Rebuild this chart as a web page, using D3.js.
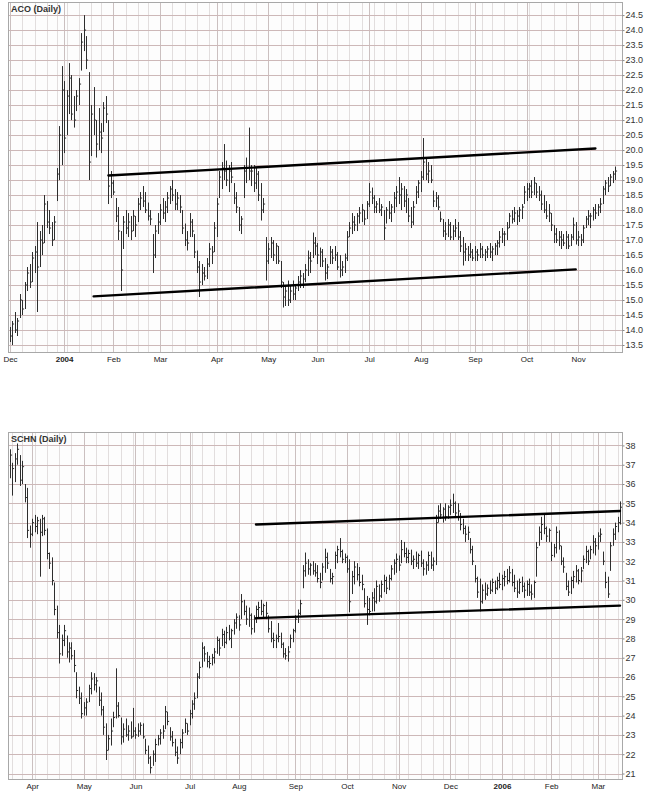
<!DOCTYPE html>
<html><head><meta charset="utf-8">
<script src="https://cdn.jsdelivr.net/npm/d3@7"></script>
<style>
body{margin:0;background:#fff}
svg{display:block}
text{font-family:"Liberation Sans",Arial,sans-serif}
</style>
</head><body>
<svg id="c" width="648" height="795"></svg>
<script>
// ---------------- DATA ----------------
const acoStart = "2003-12-01";
const acoHolidays = ["2003-12-25","2004-01-01","2004-01-19","2004-02-16","2004-04-09","2004-05-31","2004-06-11","2004-07-05","2004-09-06"];
const acoHigh = [14.1,14.3,14.6,14.4,15.2,15.0,15.6,16.1,16.2,16.6,
16.8,17.6,17.3,17.5,18.5,18.3,18.0,17.6,17.8,19.4,
20.8,22.8,22.3,22.0,22.9,22.5,21.8,22.0,22.4,23.9,
24.5,23.8,22.6,21.5,22.1,21.0,21.4,20.9,21.6,21.8,
21.0,19.3,19.0,18.4,18.1,17.3,17.8,18.0,17.9,17.8,
18.0,17.8,18.4,18.6,18.8,18.6,18.25,18.0,17.2,17.5,
17.9,18.2,18.4,18.3,18.6,18.8,19.0,18.7,18.6,18.5,
18.0,17.55,17.3,17.9,17.7,17.2,16.65,16.3,16.2,16.1,
16.4,16.9,16.8,17.6,18.4,19.3,19.6,20.2,19.65,19.5,
19.6,18.9,18.6,18.1,17.8,19.5,19.75,20.75,19.5,19.5,
19.4,19.3,18.9,18.4,17.1,16.9,17.1,17.0,16.9,16.8,
16.3,15.6,15.5,15.65,15.5,15.65,15.5,15.8,16.0,15.9,
16.2,16.65,16.6,17.25,17.1,16.9,16.75,16.7,16.4,16.2,
16.8,16.7,16.8,16.6,16.5,16.3,16.55,17.3,17.6,17.9,
17.8,17.9,18.1,18.2,18.0,18.3,18.9,18.75,18.5,18.3,
18.4,18.2,18.0,18.1,18.3,18.2,18.6,18.8,19.1,18.9,
18.8,18.7,18.4,18.1,18.3,18.8,19.0,19.3,20.4,19.75,
19.6,19.5,18.65,18.6,18.5,17.95,17.7,17.6,17.7,17.6,
17.5,17.7,17.6,17.3,17.1,16.9,16.8,16.9,16.7,16.8,
16.7,16.9,16.8,16.7,16.8,16.9,16.8,16.9,17.0,17.3,
17.4,17.3,17.6,17.9,18.0,18.1,18.0,18.1,18.2,18.8,
18.9,18.9,19.0,19.1,18.9,18.8,18.65,18.5,18.3,18.2,
17.9,17.5,17.4,17.3,17.3,17.2,17.3,17.2,17.2,17.75,
17.6,17.3,17.2,17.5,17.8,18.0,17.9,18.1,18.2,18.2,
18.4,18.8,19.0,19.1,19.2,19.3,19.45];
const acoLow = [13.6,13.5,13.9,13.8,14.4,14.5,14.7,15.3,15.4,15.6,
15.9,14.6,16.1,16.5,16.9,17.4,17.2,16.8,17.0,18.3,
19.0,19.5,19.9,20.5,21.2,21.0,20.75,21.3,21.5,22.65,
23.3,22.7,19.0,19.8,20.5,19.75,20.0,19.9,20.6,20.9,
18.2,18.4,18.5,17.6,17.0,15.3,16.7,17.2,17.1,17.0,
17.3,17.1,17.6,18.0,18.1,17.9,17.65,17.5,15.9,16.4,
17.2,17.5,17.7,17.6,17.9,18.2,18.3,18.0,18.0,17.9,
17.2,16.8,16.65,17.1,17.1,16.4,15.9,15.1,15.5,15.65,
15.7,16.1,16.2,16.6,17.1,18.4,18.7,19.0,18.8,18.6,
18.9,18.2,17.9,17.3,17.2,18.4,18.9,19.0,18.8,18.6,
18.7,18.3,17.65,17.9,15.65,16.2,16.4,16.3,16.2,16.2,
15.4,14.75,14.8,14.8,14.9,15.0,15.0,15.3,15.4,15.4,
15.6,15.8,15.9,16.4,16.5,16.2,16.1,16.1,15.65,15.7,
16.2,16.2,16.3,16.0,15.75,15.8,15.9,16.3,17.1,17.2,
17.3,17.3,17.55,17.6,17.5,17.7,18.1,18.2,17.9,17.9,
17.9,17.8,17.0,17.55,17.7,17.6,17.9,18.1,18.2,18.0,
18.1,17.9,17.6,17.4,17.5,18.2,18.4,18.6,19.0,19.0,
18.9,18.9,18.1,18.1,18.0,17.6,17.1,17.0,17.1,17.0,
17.0,17.1,17.0,16.6,16.15,16.3,16.3,16.4,16.3,16.3,
16.3,16.4,16.4,16.3,16.4,16.4,16.3,16.5,16.5,16.75,
16.9,16.8,17.0,17.4,17.55,17.6,17.5,17.6,17.7,18.2,
18.3,18.4,18.4,18.5,18.4,18.3,18.0,17.9,17.7,17.6,
17.3,16.9,16.9,16.8,16.7,16.8,16.7,16.7,16.8,17.0,
16.85,16.8,16.8,16.9,17.4,17.5,17.4,17.65,17.7,17.8,
17.9,18.2,18.5,18.6,18.8,18.9,19.0];
const acoClose = [13.8,14.2,14.0,14.3,15.0,14.7,15.5,15.9,15.6,16.4,
16.6,16.1,17.0,16.9,18.2,17.6,17.4,17.0,17.6,19.2,
20.5,22.0,20.4,21.8,22.4,21.2,21.0,21.8,22.2,23.6,
24.0,23.0,19.6,21.2,21.0,20.2,20.6,20.4,21.4,21.2,
18.8,18.9,18.6,17.8,17.3,16.0,17.6,17.4,17.6,17.3,
17.8,17.5,18.2,18.4,18.3,18.0,17.8,17.7,16.5,17.3,
17.6,18.0,17.9,18.1,18.4,18.7,18.5,18.2,18.4,18.1,
17.4,17.0,16.9,17.6,17.3,16.6,16.1,15.6,15.9,15.8,
16.2,16.7,16.6,17.4,18.2,19.1,19.4,19.3,19.0,19.3,
19.1,18.4,18.1,17.5,17.7,19.3,19.4,19.3,19.3,18.9,
19.2,18.5,18.0,18.2,16.3,16.7,16.9,16.5,16.8,16.3,
15.6,15.1,15.3,15.0,15.3,15.2,15.4,15.6,15.8,15.7,
16.0,16.4,16.3,16.9,16.8,16.5,16.6,16.3,15.9,16.1,
16.6,16.4,16.5,16.1,16.0,16.1,16.4,17.1,17.4,17.6,
17.5,17.8,17.9,18.0,17.7,18.2,18.6,18.4,18.1,18.2,
18.0,18.1,17.4,18.0,17.9,18.1,18.4,18.6,18.5,18.7,
18.3,18.5,17.8,17.6,18.1,18.6,18.9,19.1,19.6,19.2,
19.3,19.0,18.3,18.4,18.1,17.7,17.3,17.2,17.5,17.1,
17.3,17.4,17.1,16.8,16.6,16.7,16.5,16.6,16.4,16.6,
16.5,16.7,16.5,16.6,16.7,16.6,16.7,16.8,16.9,17.1,
17.2,17.2,17.4,17.8,17.7,17.9,17.8,18.0,18.1,18.6,
18.7,18.8,18.6,18.9,18.6,18.5,18.2,18.0,17.8,17.9,
17.5,17.2,17.0,17.1,17.0,16.9,17.1,16.8,17.1,17.5,
17.0,17.1,17.0,17.4,17.7,17.8,17.8,18.0,17.9,18.1,
18.2,18.7,18.9,18.8,19.1,19.2,19.3];
const acoYTicks = [13.5,14.0,14.5,15.0,15.5,16.0,16.5,17.0,17.5,18.0,18.5,19.0,19.5,20.0,20.5,21.0,21.5,22.0,22.5,23.0,23.5,24.0,24.5];
const acoTrends = [
  [["2004-01-29",19.15],["2004-11-10",20.05]],
  [["2004-01-21",15.12],["2004-10-29",16.02]]
];

const schnStart = "2005-03-18";
const schnHolidays = ["2005-03-25","2005-05-30","2005-07-04","2005-09-05","2005-11-24","2005-12-26","2006-01-02","2006-01-16","2006-02-20"];
const schnHigh = [37.8,37.1,37.6,38.1,37.5,37.2,36.0,35.8,33.85,34.2,
34.4,34.3,34.2,34.4,34.3,33.7,32.45,32.2,30.9,29.7,
28.7,28.2,28.7,28.15,27.8,27.8,27.4,26.25,25.5,25.2,
24.7,24.9,25.6,26.25,26.2,26.0,25.5,25.2,24.5,23.6,
23.0,23.85,24.2,26.45,24.7,23.9,23.6,23.85,23.5,23.7,
24.4,23.4,23.6,23.65,23.6,22.8,22.45,21.9,22.2,22.8,
23.0,23.3,23.5,24.5,24.2,23.4,23.2,22.8,22.4,22.8,
23.3,23.85,23.6,24.3,24.8,25.2,26.2,26.8,27.8,27.6,
27.3,27.1,27.2,27.5,28.1,28.0,28.5,28.4,28.6,28.7,
28.5,29.0,29.3,29.2,30.3,30.0,29.7,29.6,29.3,29.2,
29.7,29.9,30.0,29.8,29.9,29.2,28.9,28.3,28.2,28.8,
28.3,27.8,27.5,27.6,28.2,28.5,29.2,29.5,30.0,31.8,
32.45,32.1,31.9,32.0,31.9,31.8,31.4,31.9,32.65,32.45,
31.6,31.4,32.5,32.8,33.2,32.6,32.4,32.3,32.1,31.5,
32.0,31.9,31.7,31.3,30.6,30.2,30.1,30.4,30.6,31.0,
30.8,31.0,31.3,31.2,31.3,31.8,32.1,32.4,32.3,33.1,
33.0,32.7,32.6,32.6,32.3,32.5,32.4,32.55,32.1,32.0,
32.5,32.5,32.2,34.4,34.9,35.0,34.8,35.0,34.9,35.2,
35.5,35.1,35.0,34.5,34.2,33.85,33.8,33.2,32.8,31.8,
31.2,31.1,30.8,30.9,30.8,31.0,31.1,31.0,31.2,31.4,
31.3,31.5,31.6,31.75,31.6,31.3,31.0,31.1,31.2,30.9,
31.0,31.1,30.8,31.0,33.0,33.8,34.3,34.5,33.8,33.7,
33.0,32.9,33.8,33.6,32.8,32.2,31.4,31.0,31.2,31.5,
31.8,31.6,31.7,32.3,32.8,32.6,32.8,33.35,33.2,33.5,
33.7,32.5,31.45,31.2,33.0,33.7,34.0,34.3,35.1];
const schnLow = [36.3,35.4,36.1,37.0,35.9,36.0,35.05,33.2,32.7,33.3,
33.5,33.4,31.2,33.3,33.35,32.1,31.6,30.75,29.2,28.0,
26.7,27.1,27.6,27.0,26.75,26.9,26.25,24.9,24.6,23.85,
24.0,24.0,24.7,25.1,25.3,25.2,24.5,24.0,23.0,21.7,
22.2,22.45,23.4,23.85,23.9,22.5,22.6,22.9,22.7,22.8,
22.9,22.8,22.9,23.0,22.8,22.0,21.5,21.0,21.4,21.6,
22.45,22.5,22.8,23.3,23.5,22.7,22.4,21.9,21.5,22.0,
22.3,23.1,23.0,23.5,23.85,24.3,24.9,25.9,26.5,26.8,
26.5,26.45,26.6,26.7,27.2,27.1,27.6,27.5,27.7,27.9,
27.5,28.2,28.5,28.4,29.0,29.2,28.7,28.6,28.2,28.3,
28.8,29.1,29.2,29.0,29.0,28.3,27.8,27.5,27.5,27.8,
27.5,27.0,26.9,26.8,27.5,27.8,28.3,28.8,29.2,30.6,
31.2,31.3,31.25,31.3,31.2,30.9,30.6,31.0,31.4,31.6,
30.9,30.8,31.6,31.9,32.2,31.9,31.9,31.4,29.35,30.3,
30.8,31.0,30.7,30.5,29.6,28.7,29.2,29.4,29.4,29.8,
29.9,30.1,30.4,30.3,30.5,31.0,31.3,31.4,31.5,31.9,
32.2,31.9,31.9,31.8,31.6,31.7,31.6,31.7,31.25,31.3,
31.5,31.6,31.5,31.8,34.0,34.2,34.0,34.1,34.2,34.4,
34.5,34.3,34.1,33.6,33.4,33.0,33.1,32.4,31.8,30.9,
30.1,29.4,29.8,30.0,30.2,30.3,30.4,30.3,30.5,30.6,
30.5,30.7,30.8,30.9,30.7,30.4,30.1,30.3,30.4,30.1,
30.2,30.2,30.0,30.1,31.2,32.8,33.1,33.4,33.0,33.0,
32.0,32.2,32.4,32.6,31.8,31.4,30.5,30.2,30.3,30.6,
30.9,30.8,30.9,31.6,31.9,31.8,32.1,32.4,32.3,32.6,
33.0,31.8,30.6,30.1,31.5,32.8,33.1,33.5,33.9];
const schnClose = [37.5,36.8,37.3,37.8,36.2,36.9,35.3,33.6,33.4,34.0,
33.8,34.1,33.5,34.2,33.6,32.4,31.9,31.0,29.5,28.3,
27.2,27.9,28.4,27.3,27.5,27.1,26.6,25.3,24.9,24.1,
24.4,24.7,25.4,25.9,25.6,25.8,24.8,24.3,23.4,22.2,
22.8,23.2,23.9,24.5,24.0,22.9,23.3,23.0,23.2,22.9,
23.2,23.0,23.2,23.5,22.9,22.2,21.8,21.3,22.0,22.5,
22.8,23.1,23.2,24.2,23.7,22.9,22.6,22.1,21.8,22.6,
23.1,23.6,23.2,24.1,24.6,24.9,26.0,26.5,27.5,27.2,
26.8,26.7,27.0,27.3,27.9,27.5,28.2,27.8,28.3,28.0,
28.4,28.8,29.1,28.7,29.9,29.4,29.0,29.2,28.5,29.0,
29.5,29.6,29.4,29.7,29.3,28.5,28.0,27.9,28.0,28.1,
27.7,27.2,27.1,27.3,28.0,28.4,29.0,29.3,29.8,31.5,
31.9,31.6,31.8,31.5,31.4,31.1,30.9,31.7,32.2,31.9,
31.1,31.2,32.3,32.6,32.5,32.1,32.2,31.6,29.9,31.2,
31.7,31.3,30.9,30.8,29.8,29.5,29.4,30.1,29.9,30.7,
30.2,30.8,31.0,30.6,31.1,31.6,31.9,32.1,31.8,32.6,
32.4,32.2,32.4,32.0,32.1,31.9,32.3,31.9,31.6,31.8,
32.3,31.8,32.0,34.0,34.6,34.4,34.7,34.3,34.8,34.9,
35.0,34.5,34.6,33.9,33.7,33.4,33.5,32.6,32.0,31.1,
30.4,29.9,30.5,30.3,30.6,30.5,30.9,30.6,31.0,30.8,
31.1,31.2,31.0,31.4,30.9,30.6,30.4,30.9,30.7,30.5,
30.8,30.4,30.3,30.9,32.7,33.5,33.9,33.7,33.3,33.6,
32.3,32.7,33.5,32.8,32.0,31.7,30.7,30.4,31.0,31.2,
31.5,31.0,31.5,32.1,32.5,32.0,32.6,33.0,32.8,33.3,
33.4,32.0,30.9,30.3,32.8,33.4,33.8,34.0,34.8];
const schnYTicks = [21,22,23,24,25,26,27,28,29,30,31,32,33,34,35,36,37,38];
const schnTrends = [
  [["2005-08-10",33.9],["2006-03-14",34.6]],
  [["2005-08-10",29.05],["2006-03-14",29.7]]
];
const monthNames = ["Jan","Feb","Mar","Apr","May","Jun","Jul","Aug","Sep","Oct","Nov","Dec"];

// ---------------- HELPERS ----------------
function tradingDays(startStr, n, holidays) {
  const hs = new Set(holidays);
  const out = [];
  const d = new Date(startStr + "T12:00:00Z");
  while (out.length < n) {
    const wd = d.getUTCDay();
    const s = d.toISOString().slice(0, 10);
    if (wd !== 0 && wd !== 6 && !hs.has(s)) out.push(s);
    d.setUTCDate(d.getUTCDate() + 1);
  }
  return out;
}
const toDate = s => new Date(s + "T12:00:00Z");

const svg = d3.select("#c");
const plotL = 8.5, plotR = 622.5;
const x = d3.scaleLinear().domain([0, 248]).range([10, 620]);

const panels = [
  {title: "ACO (Daily)", start: acoStart, holidays: acoHolidays, high: acoHigh, low: acoLow, close: acoClose,
   yTicks: acoYTicks, fmt: d3.format(".1f"), trends: acoTrends, top: 2.5, bottom: 352.5, yDomain: [13.25, 24.92]},
  {title: "SCHN (Daily)", start: schnStart, holidays: schnHolidays, high: schnHigh, low: schnLow, close: schnClose,
   yTicks: schnYTicks, fmt: d3.format("d"), trends: schnTrends, top: 432.5, bottom: 779.5, yDomain: [20.69, 38.67]}
];

panels.forEach(p => {
  const n = p.high.length;
  const dates = tradingDays(p.start, n, p.holidays);
  const idxOf = new Map(dates.map((d, i) => [d, i]));
  const y = d3.scaleLinear().domain(p.yDomain).range([p.bottom, p.top]);
  const g = svg.append("g");

  // background
  g.append("rect").attr("x", plotL).attr("y", p.top).attr("width", plotR - plotL).attr("height", p.bottom - p.top)
    .attr("fill", "#fdfdfd");

  // week starts & month starts
  const weekStarts = [], monthStarts = [];
  dates.forEach((s, i) => {
    const d = toDate(s);
    if (i === 0) {
      if (d.getUTCDate() <= 3) monthStarts.push(i);
      return;
    }
    const pd = toDate(dates[i - 1]);
    if (d.getUTCDay() < pd.getUTCDay() || (d - pd) >= 7 * 864e5) weekStarts.push(i);
    if (d.getUTCMonth() !== pd.getUTCMonth()) monthStarts.push(i);
  });

  const px = v => Math.round(x(v)) + 0.5;
  g.selectAll(".wk").data(weekStarts).join("line")
    .attr("x1", px).attr("x2", px).attr("y1", p.top).attr("y2", p.bottom)
    .attr("stroke", "#e2dede").attr("stroke-width", 1);
  g.selectAll(".mo").data(monthStarts).join("line")
    .attr("x1", px).attr("x2", px).attr("y1", p.top).attr("y2", p.bottom)
    .attr("stroke", "#cbc0c0").attr("stroke-width", 1);
  g.selectAll(".hz").data(p.yTicks).join("line")
    .attr("x1", plotL).attr("x2", plotR)
    .attr("y1", v => Math.round(y(v)) + 0.5).attr("y2", v => Math.round(y(v)) + 0.5)
    .attr("stroke", "#cdb8b8").attr("stroke-width", 1);

  // OHLC bars (high-low with close tick)
  const bars = d3.range(n);
  g.selectAll(".hl").data(bars).join("line")
    .attr("x1", px).attr("x2", px)
    .attr("y1", i => y(p.high[i])).attr("y2", i => y(p.low[i]))
    .attr("stroke", "#2e2e2e").attr("stroke-width", 1);
  g.selectAll(".cl").data(bars).join("line")
    .attr("x1", px).attr("x2", i => px(i) + 1.6)
    .attr("y1", i => y(p.close[i])).attr("y2", i => y(p.close[i]))
    .attr("stroke", "#2e2e2e").attr("stroke-width", 1);

  // trend lines
  p.trends.forEach(t => {
    g.append("line")
      .attr("x1", x(idxOf.get(t[0][0]))).attr("y1", y(t[0][1]))
      .attr("x2", x(idxOf.get(t[1][0]))).attr("y2", y(t[1][1]))
      .attr("stroke", "#000").attr("stroke-width", 2.4).attr("stroke-linecap", "round");
  });

  // border
  g.append("rect").attr("x", plotL).attr("y", p.top).attr("width", plotR - plotL).attr("height", p.bottom - p.top)
    .attr("fill", "none").attr("stroke", "#a8a8a8").attr("stroke-width", 1);

  // title
  g.append("text").attr("x", 11).attr("y", p.top + 9.5).attr("font-size", 9).attr("font-weight", "bold")
    .attr("fill", "#333").text(p.title);

  // y axis right
  const ya = g.append("g").attr("transform", `translate(${plotR},0)`)
    .call(d3.axisRight(y).tickValues(p.yTicks).tickFormat(p.fmt).tickSize(2).tickPadding(1));
  ya.select(".domain").remove();
  ya.selectAll("line").attr("stroke", "#888");
  ya.selectAll("text").attr("font-size", 9).attr("fill", "#333").style("font-family", '"Liberation Sans",Arial,sans-serif');

  // x axis bottom
  const labelOf = i => {
    const d = toDate(dates[i]);
    return d.getUTCMonth() === 0 ? String(d.getUTCFullYear()) : monthNames[d.getUTCMonth()];
  };
  const xa = g.append("g").attr("transform", `translate(0,${p.bottom})`)
    .call(d3.axisBottom(x).tickValues(monthStarts).tickFormat(labelOf).tickSize(0).tickPadding(4));
  xa.select(".domain").remove();
  xa.selectAll("text").attr("font-size", 8).attr("fill", "#222")
    .style("font-family", '"Liberation Sans",Arial,sans-serif')
    .attr("font-weight", i => toDate(dates[i]).getUTCMonth() === 0 ? "bold" : "normal");
});
</script>
</body></html>
